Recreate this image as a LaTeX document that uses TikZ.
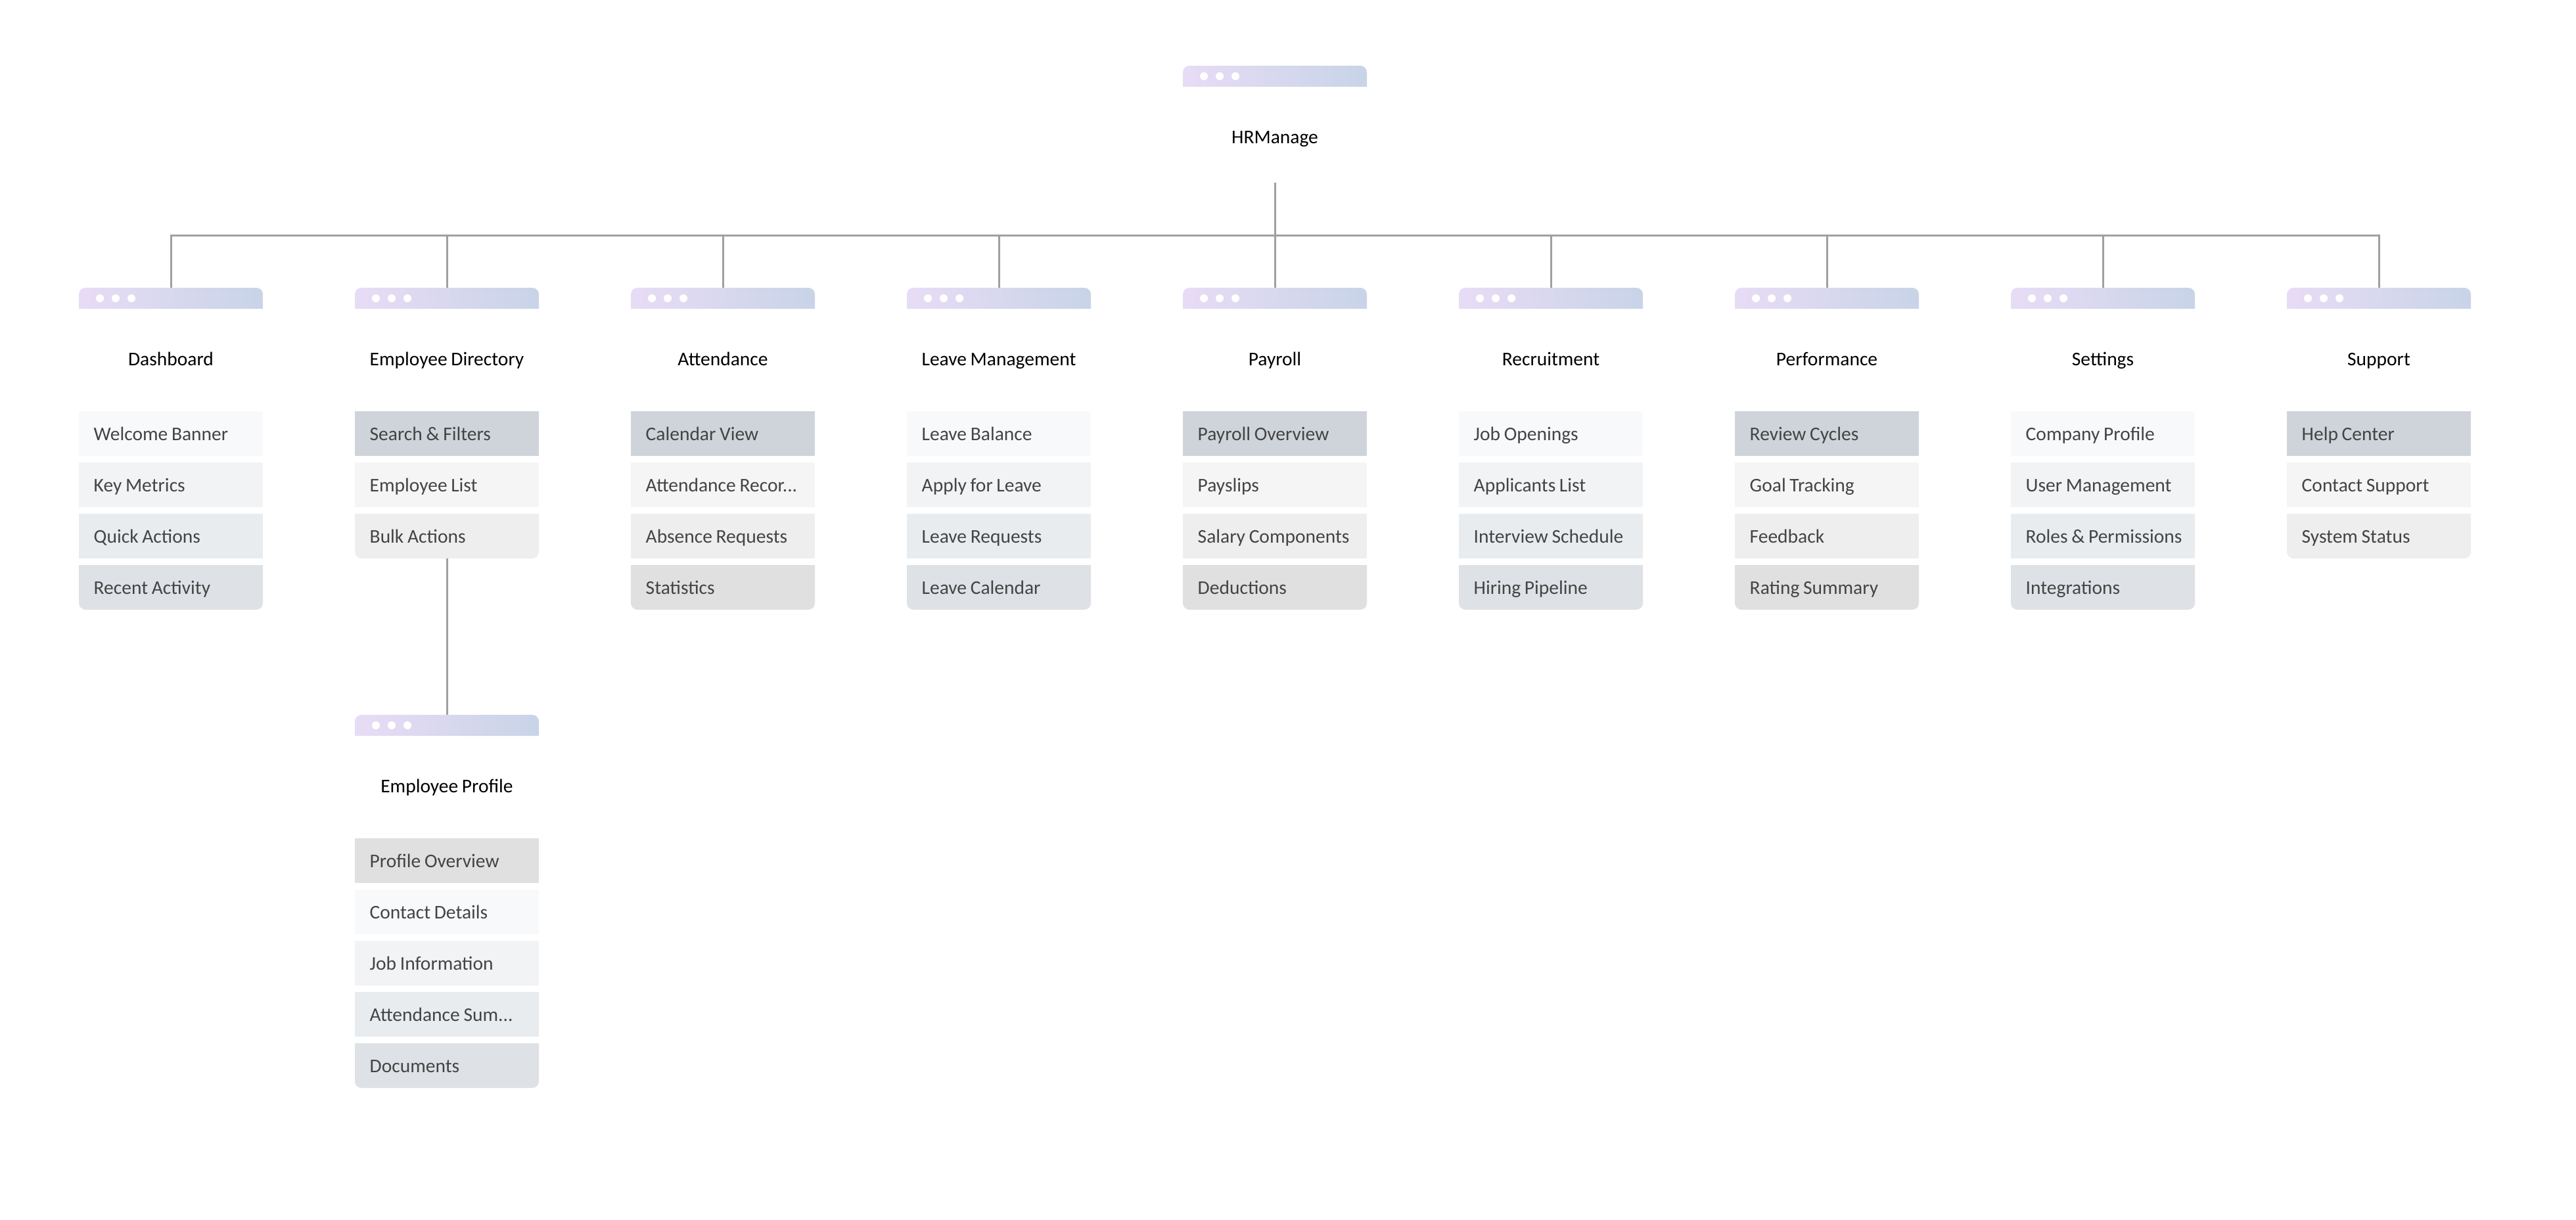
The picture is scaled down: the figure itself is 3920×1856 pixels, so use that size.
\documentclass[tikz,border=0pt]{standalone}
\usepackage{fontspec}
\setmainfont[WordSpace=0.85]{Carlito}
\definecolor{c0}{HTML}{F8F9FA}
\definecolor{c1}{HTML}{F1F3F5}
\definecolor{c2}{HTML}{E9ECEF}
\definecolor{c3}{HTML}{DEE2E6}
\definecolor{c4}{HTML}{CED4DA}
\definecolor{c5}{HTML}{F5F5F5}
\definecolor{c6}{HTML}{EEEEEE}
\definecolor{c7}{HTML}{E0E0E0}
\definecolor{hl}{HTML}{E8DCF5}
\definecolor{hr}{HTML}{C8D4E8}
\definecolor{conncol}{HTML}{A0A0A0}
\definecolor{itemtext}{HTML}{444444}
\tikzset{
  conn/.style={draw=conncol,line width=3pt,xshift=1pt},
  itembox/.style={rectangle,minimum width=280pt,minimum height=68pt,inner sep=0pt,
    text width=234.6pt,align=left,text height=26pt,text depth=6pt,text=itemtext,
    font=\fontsize{29.5}{36}\selectfont},
  titlelabel/.style={rectangle,inner sep=0pt,text=black,text height=26pt,text depth=6pt,
    font=\fontsize{29.5}{36}\selectfont},
  headbar/.style={rectangle,minimum width=280pt,minimum height=32pt,inner sep=0pt},
  dot/.style={circle,fill=white,minimum size=12pt,inner sep=0pt},
}
% name, centre x, top y, title
\newcommand{\win}[4]{%
  \path[left color=hl,right color=hr]
    (#2-140,#3+32) [rounded corners=10pt] -- (#2-140,#3) -- (#2+140,#3) [sharp corners] -- (#2+140,#3+32) -- cycle;
  \node[headbar] (#1) at (#2,#3+16) {};
  \node[dot] (#1d1) at (#2-108,#3+16) {};
  \node[dot] (#1d2) at (#2-84,#3+16) {};
  \node[dot] (#1d3) at (#2-60,#3+16) {};
  \node[titlelabel] (#1t) at (#2,#3+108) {#4};
  \coordinate (#1b) at (#2,#3+178);
}
% name, centre x, top y, colour, text
\newcommand{\itm}[5]{\node[itembox,fill=#4] (#1) at (#2,#3+34) {\mbox{\spaceskip=0pt\relax\xspaceskip=0pt\relax #5}};}
\newcommand{\itmlast}[5]{%
  \fill[#4] (#2-140,#3) [rounded corners=10pt] -- (#2-140,#3+68) -- (#2+140,#3+68) [sharp corners] -- (#2+140,#3) -- cycle;
  \node[itembox] (#1) at (#2,#3+34) {\mbox{\spaceskip=0pt\relax\xspaceskip=0pt\relax #5}};}
\begin{document}
\begin{tikzpicture}[x=1pt,y=-1pt]
\useasboundingbox (0,0) rectangle (3920,1856);
\fill[white] (0,0) rectangle (3920,1856);
\coordinate (bus) at (0,358);

\win{root}{1940}{100}{HRManage}
\win{dash}{260}{438}{Dashboard}
\win{dir}{680}{438}{Employee Directory}
\win{att}{1100}{438}{Attendance}
\win{leave}{1520}{438}{Leave Management}
\win{pay}{1940}{438}{Payroll}
\win{rec}{2360}{438}{Recruitment}
\win{perf}{2780}{438}{Performance}
\win{set}{3200}{438}{Settings}
\win{sup}{3620}{438}{Support}
\win{prof}{680}{1088}{Employee Profile}

\itm{dash1}{260}{626}{c0}{Welcome Banner}
\itm{dash2}{260}{704}{c1}{Key Metrics}
\itm{dash3}{260}{782}{c2}{Quick Actions}
\itmlast{dash4}{260}{860}{c3}{Recent Activity}

\itm{dir1}{680}{626}{c4}{Search \& Filters}
\itm{dir2}{680}{704}{c5}{Employee List}
\itmlast{dir3}{680}{782}{c6}{Bulk Actions}

\itm{att1}{1100}{626}{c4}{Calendar View}
\itm{att2}{1100}{704}{c5}{Attendance Recor...}
\itm{att3}{1100}{782}{c6}{Absence Requests}
\itmlast{att4}{1100}{860}{c7}{Statistics}

\itm{leave1}{1520}{626}{c0}{Leave Balance}
\itm{leave2}{1520}{704}{c1}{Apply for Leave}
\itm{leave3}{1520}{782}{c2}{Leave Requests}
\itmlast{leave4}{1520}{860}{c3}{Leave Calendar}

\itm{pay1}{1940}{626}{c4}{Payroll Overview}
\itm{pay2}{1940}{704}{c5}{Payslips}
\itm{pay3}{1940}{782}{c6}{Salary Components}
\itmlast{pay4}{1940}{860}{c7}{Deductions}

\itm{rec1}{2360}{626}{c0}{Job Openings}
\itm{rec2}{2360}{704}{c1}{Applicants List}
\itm{rec3}{2360}{782}{c2}{Interview Schedule}
\itmlast{rec4}{2360}{860}{c3}{Hiring Pipeline}

\itm{perf1}{2780}{626}{c4}{Review Cycles}
\itm{perf2}{2780}{704}{c5}{Goal Tracking}
\itm{perf3}{2780}{782}{c6}{Feedback}
\itmlast{perf4}{2780}{860}{c7}{Rating Summary}

\itm{set1}{3200}{626}{c0}{Company Profile}
\itm{set2}{3200}{704}{c1}{User Management}
\itm{set3}{3200}{782}{c2}{Roles \& Permissions}
\itmlast{set4}{3200}{860}{c3}{Integrations}

\itm{sup1}{3620}{626}{c4}{Help Center}
\itm{sup2}{3620}{704}{c5}{Contact Support}
\itmlast{sup3}{3620}{782}{c6}{System Status}

\itm{prof1}{680}{1276}{c7}{Profile Overview}
\itm{prof2}{680}{1354}{c0}{Contact Details}
\itm{prof3}{680}{1432}{c1}{Job Information}
\itm{prof4}{680}{1510}{c2}{Attendance Sum...}
\itmlast{prof5}{680}{1588}{c3}{Documents}

\foreach \c in {dash,dir,att,leave,pay,rec,perf,set,sup}
  \draw[conn] (rootb) -- (rootb |- bus) -| (\c.north);
\draw[conn] (dir3.south) -- (prof.north);
\end{tikzpicture}
\end{document}
